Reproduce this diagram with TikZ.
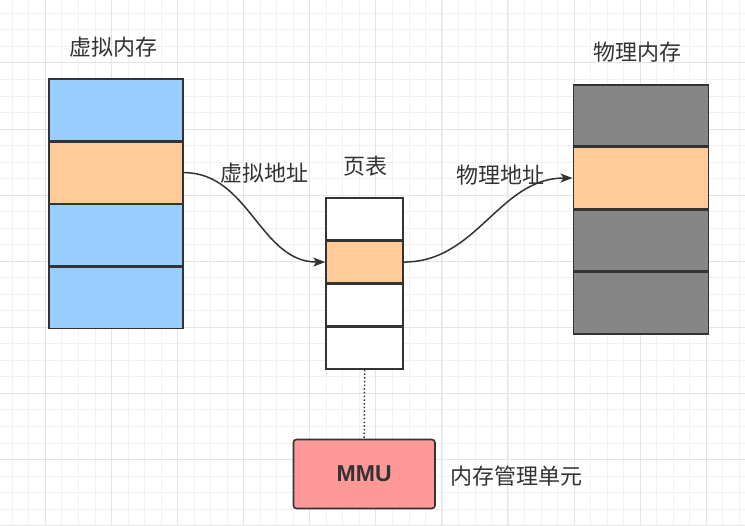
\documentclass[tikz,border=0pt]{standalone}
\usepackage{fontspec}
\setmainfont{Liberation Sans}
\newfontfamily\cjk{Noto Sans CJK SC}
\usetikzlibrary{arrows.meta}
\definecolor{vblue}{HTML}{99CCFF}
\definecolor{porange}{HTML}{FFCC99}
\definecolor{mgrey}{HTML}{868686}
\definecolor{mmured}{HTML}{FF9999}
\definecolor{ink}{HTML}{333333}
\definecolor{gridminor}{HTML}{F1F1F1}
\definecolor{gridmajor}{HTML}{E4E4E4}
\tikzset{
	cell/.style={draw=ink,line width=1.6pt,inner sep=0pt},
	lbl/.style={text=ink,inner sep=0pt,font=\cjk\fontsize{22}{26}\selectfont},
	link/.style={draw=ink,line width=1.5pt},
}
\begin{document}
\begin{tikzpicture}[x=1pt,y=-1pt,>={Stealth[length=12pt,width=9pt,inset=3pt]}]
			\useasboundingbox (0,0) rectangle (745,526);
			\fill[white] (0,0) rectangle (745,526);
			% grid
			\foreach \i in {0,...,44}{\draw[gridminor,line width=1pt] ({12.4+16.525*\i},0)--++(0,526);}
			\foreach \i in {0,...,31}{\draw[gridminor,line width=1pt] (0,{13.4+16.525*\i})--++(745,0);}
			\foreach \i in {0,...,10}{\draw[gridmajor,line width=1pt] ({45.2+66.1*\i},0)--++(0,526);}
			\foreach \i in {0,...,7}{\draw[gridmajor,line width=1pt] (0,{63+66.1*\i})--++(745,0);}
			% virtual memory
			\foreach \i/\c in {4/vblue,3/vblue,2/porange,1/vblue}{\node[cell,fill=\c,minimum width=134pt,minimum height=61.6pt] (v\i) at (116,{78.7+62.6*(\i-.5)}) {};}
			% page table
			\foreach \i/\c in {4/white,3/white,2/porange,1/white}{\node[cell,fill=\c,minimum width=77pt,minimum height=42.2pt] (p\i) at (364.6,{197.7+42.9*(\i-.5)}) {};}
			% physical memory
			\foreach \i/\c in {4/mgrey,3/mgrey,2/porange,1/mgrey}{\node[cell,fill=\c,minimum width=135pt,minimum height=61.5pt] (m\i) at (640.8,{84.3+62.5*(\i-.5)}) {};}
			\node[cell,fill=mmured,rounded corners=3pt,minimum width=141.5pt,minimum height=69pt,text=ink,font=\bfseries\fontsize{23}{27}\selectfont] (mmu) at (364.2,474) {MMU};
			\node[lbl] (vmem) at (113,47) {虚拟内存};
			\node[lbl] (pmem) at (637.5,52) {物理内存};
			\node[lbl] (ptab) at (365,166) {页表};
			\node[lbl] (vaddr) at (264,173) {虚拟地址};
			\node[lbl] (paddr) at (500,175) {物理地址};
			\node[lbl] (mmuname) at (516.7,476) {内存管理单元};
			\draw[link,->] (v2.east) to[out=0,in=180] (p2.west);
			\draw[link,->] (p2.east) to[out=0,in=180] (m2.west);
			\draw[link,dash pattern=on 1.5pt off 2.2pt] (p4.south) -- (mmu.north);
		\end{tikzpicture}
\end{document}
